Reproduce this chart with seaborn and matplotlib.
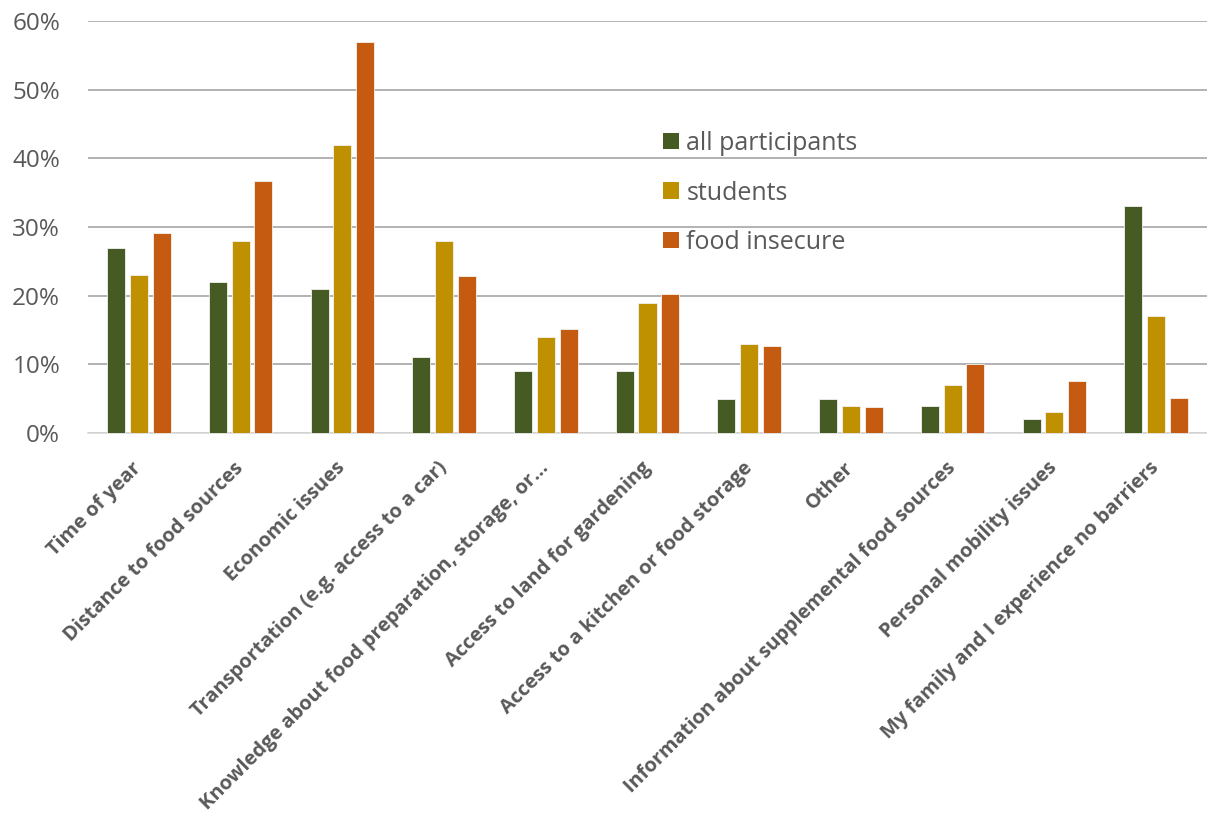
import numpy as np
import pandas as pd
import matplotlib
matplotlib.use("Agg")
import matplotlib.pyplot as plt
from matplotlib.ticker import FuncFormatter
from matplotlib.patches import Patch
import seaborn as sns

# Reported barriers to food access (% of respondents)
categories = [
    "Time of year",
    "Distance to food sources",
    "Economic issues",
    "Transportation (e.g. access to a car)",
    "Knowledge about food preparation, storage, or…",
    "Access to land for gardening",
    "Access to a kitchen or food storage",
    "Other",
    "Information about supplemental food sources",
    "Personal mobility issues",
    "My family and I experience no barriers",
]
all_participants = [27, 22, 21, 11, 9, 9, 5, 5, 4, 2, 33]
students = [23, 28, 42, 28, 14, 19, 13, 4, 7, 3, 17]
food_insecure = [29.1, 36.7, 57.0, 22.8, 15.2, 20.3, 12.7, 3.8, 10.1, 7.6, 5.1]

series_names = ["all participants", "students", "food insecure"]
series_colors = ["#465A24", "#BF9000", "#C55A11"]

df = pd.DataFrame({
    "category": categories * 3,
    "group": np.repeat(series_names, len(categories)),
    "value": all_participants + students + food_insecure,
})

sns.set_theme(style="white")
plt.rcParams["font.family"] = ["Open Sans", "DejaVu Sans"]

fig = plt.figure(figsize=(12.07, 8.16), dpi=100)
ax = fig.add_axes([88 / 1207, 1 - 433 / 816, 1 - 88 / 1207, (433 - 21) / 816])

sns.barplot(
    data=df, x="category", y="value", hue="group",
    order=categories, hue_order=series_names,
    palette=series_colors, width=0.672, gap=0.21,
    edgecolor="#F2F2F2", linewidth=0.6, saturation=1,
    errorbar=None, ax=ax, legend=False, zorder=3,
)

ax.set_ylim(0, 60)
ax.set_xlim(-0.5, len(categories) - 0.5)
ax.set_yticks(range(0, 61, 10))
ax.yaxis.set_major_formatter(FuncFormatter(lambda v, _: f"{v:.0f}%"))
ax.set_xlabel("")
ax.set_ylabel("")

ax.grid(axis="y", color="#A6A6A6", linewidth=1.2, zorder=0)
ax.grid(axis="x", visible=False)
ax.set_axisbelow(True)
for side in ["left", "right", "top"]:
    ax.spines[side].set_visible(False)
ax.spines["bottom"].set_color("#D9D9D9")
ax.spines["bottom"].set_linewidth(1.2)
ax.spines["bottom"].set_zorder(1)

ax.tick_params(axis="y", length=0, pad=20, labelsize=17.5, labelcolor="#595959")
ax.tick_params(axis="x", length=0, pad=23, labelcolor="#595959")
for lbl in ax.get_xticklabels():
    lbl.set_rotation(45)
    lbl.set_ha("right")
    lbl.set_va("center")
    lbl.set_rotation_mode("anchor")
    lbl.set_fontsize(14.4)
    lbl.set_fontweight("bold")

handles = [Patch(facecolor=c, edgecolor="none") for c in series_colors]
leg = ax.legend(
    handles, series_names, loc="upper left", frameon=False,
    bbox_to_anchor=(663 / 1207, 1 - 131 / 816), bbox_transform=fig.transFigure,
    fontsize=18, handlelength=0.64, handleheight=0.64, handletextpad=0.3,
    labelspacing=0.98, borderpad=0, borderaxespad=0,
)
for t in leg.get_texts():
    t.set_color("#595959")

fig.savefig("out.png", dpi=100)
